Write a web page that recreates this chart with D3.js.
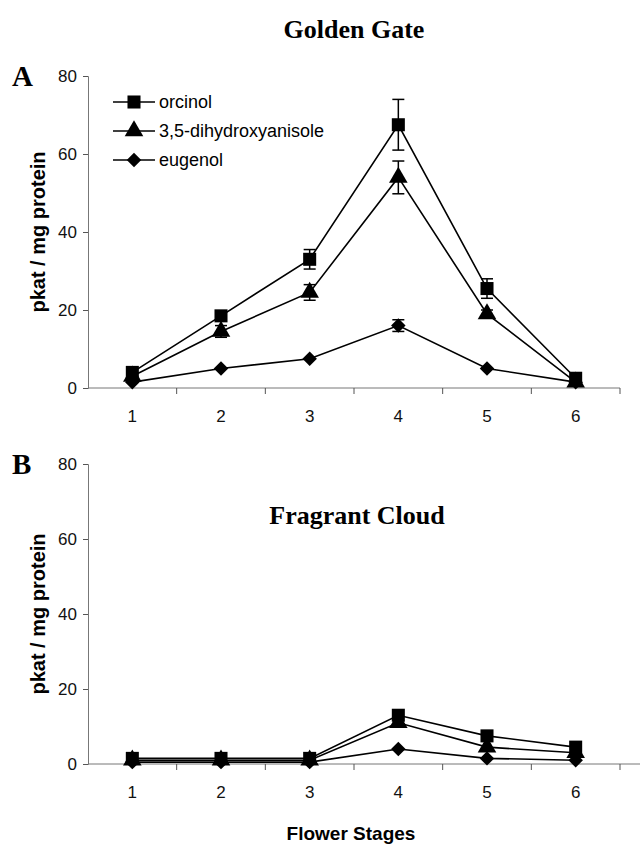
<!DOCTYPE html>
<html>
<head>
<meta charset="utf-8">
<script src="https://cdn.jsdelivr.net/npm/d3@7"></script>
<style>
  body { margin: 0; background: #fff; }
  svg { display: block; }
</style>
</head>
<body>
<svg id="chart" width="642" height="847"></svg>
<script>
// data
const stages = ["1", "2", "3", "4", "5", "6"];
const seriesNames = ["orcinol", "3,5-dihydroxyanisole", "eugenol"];
const yTicks = [0, 20, 40, 60, 80];

// Golden Gate (panel A)
const ggOrcinol = [4, 18.5, 33, 67.5, 25.5, 2.5];
const ggOrcinolErr = [0.5, 1, 2.5, 6.5, 2.5, 0.5];
const ggAnisole = [3, 14.5, 24.5, 54, 19, 1.5];
const ggAnisoleErr = [0.5, 1.5, 2, 4.2, 1, 0.3];
const ggEugenol = [1.5, 5, 7.5, 16, 5, 1.5];
const ggEugenolErr = [0.3, 0.5, 0.5, 1.5, 0.5, 0.3];

// Fragrant Cloud (panel B)
const fcOrcinol = [1.5, 1.5, 1.5, 13, 7.5, 4.5];
const fcAnisole = [1, 1, 1, 11, 4.5, 3];
const fcEugenol = [0.5, 0.5, 0.5, 4, 1.5, 1];

const svg = d3.select("#chart");
const SANS = "Liberation Sans, Arial, sans-serif";
const SERIF = "Liberation Serif, Times New Roman, serif";

// square, triangle, diamond (square turned 45deg)
const symbols = [d3.symbolSquare, d3.symbolTriangle, d3.symbolSquare];
const symSizes = [170, 150, 105];
const symRot = [0, 0, 45];

function marker(sel, i) {
  return sel.attr("d", d3.symbol().type(symbols[i]).size(symSizes[i])).attr("fill", "#000");
}

function drawPanel(cfg) {
  const x = d3.scaleBand().domain(stages).range([88, 620]);
  const y = d3.scaleLinear().domain([0, 80]).range([cfg.bottom, cfg.top]);
  const g = svg.append("g");

  // y axis
  const ya = g.append("g")
    .attr("transform", "translate(88,0)")
    .call(d3.axisLeft(y).tickValues(yTicks).tickSize(5).tickPadding(6));
  ya.select(".domain").attr("stroke", "#777");
  ya.selectAll(".tick line").attr("stroke", "#555");
  ya.selectAll("text").attr("font-family", SANS).attr("font-size", 17).attr("fill", "#111");

  // x axis
  const xa = g.append("g")
    .attr("transform", `translate(0,${cfg.bottom})`)
    .call(d3.axisBottom(x).tickSize(0).tickPadding(22));
  xa.select(".domain").attr("stroke", "#777").attr("d", `M88,0H${cfg.axisEnd}`);
  xa.selectAll("text").attr("font-family", SANS).attr("font-size", 17).attr("fill", "#111");
  // boundary ticks between stages
  const bounds = stages.map(s => x(s)).concat([x.range()[1]]);
  g.selectAll(".btick").data(bounds.slice(1)).join("line")
    .attr("x1", d => d).attr("x2", d => d)
    .attr("y1", cfg.bottom).attr("y2", cfg.bottom + 6)
    .attr("stroke", "#555");

  const cx = s => x(s) + x.bandwidth() / 2;

  cfg.series.forEach((vals, i) => {
    const pts = stages.map((s, j) => ({ s, v: vals[j], e: cfg.errs ? cfg.errs[i][j] : 0 }));
    g.append("path").datum(pts)
      .attr("fill", "none").attr("stroke", "#000").attr("stroke-width", 1.6)
      .attr("d", d3.line().x(d => cx(d.s)).y(d => y(d.v)));

    if (cfg.errs) {
      const eg = g.append("g").attr("stroke", "#000").attr("stroke-width", 1.5);
      pts.filter(d => d.e >= 1).forEach(d => {
        eg.append("line").attr("x1", cx(d.s)).attr("x2", cx(d.s))
          .attr("y1", y(d.v - d.e)).attr("y2", y(d.v + d.e));
        [d.v - d.e, d.v + d.e].forEach(ev => {
          eg.append("line").attr("x1", cx(d.s) - 6).attr("x2", cx(d.s) + 6)
            .attr("y1", y(ev)).attr("y2", y(ev));
        });
      });
    }

    marker(g.selectAll(null).data(pts).join("path"), i)
      .attr("transform", d => `translate(${cx(d.s)},${y(d.v)}) rotate(${symRot[i]})`);
  });

  // panel letter
  svg.append("text").attr("x", 12).attr("y", cfg.top + 10)
    .attr("font-family", SERIF).attr("font-weight", "bold").attr("font-size", 29)
    .text(cfg.letter);

  // y label
  svg.append("text")
    .attr("transform", `translate(45,${(cfg.top + cfg.bottom) / 2}) rotate(-90)`)
    .attr("text-anchor", "middle")
    .attr("font-family", SANS).attr("font-weight", "bold").attr("font-size", 20)
    .text("pkat / mg protein");

  // title
  svg.append("text").attr("x", cfg.titleX).attr("y", cfg.titleY)
    .attr("text-anchor", "middle")
    .attr("font-family", SERIF).attr("font-weight", "bold").attr("font-size", 26)
    .text(cfg.title);
}

drawPanel({
  top: 76, bottom: 388, axisEnd: 620, letter: "A",
  title: "Golden Gate", titleX: 354, titleY: 38,
  series: [ggOrcinol, ggAnisole, ggEugenol],
  errs: [ggOrcinolErr, ggAnisoleErr, ggEugenolErr]
});

drawPanel({
  top: 464, bottom: 764, axisEnd: 640, letter: "B",
  title: "Fragrant Cloud", titleX: 357, titleY: 524,
  series: [fcOrcinol, fcAnisole, fcEugenol],
  errs: null
});

// legend
const lg = svg.append("g");
seriesNames.forEach((name, i) => {
  const ly = 102 + i * 29;
  lg.append("line").attr("x1", 113).attr("x2", 155).attr("y1", ly).attr("y2", ly)
    .attr("stroke", "#000").attr("stroke-width", 1.5);
  marker(lg.append("path"), i).attr("transform", `translate(134,${ly}) rotate(${symRot[i]})`);
  lg.append("text").attr("x", 159).attr("y", ly + 6)
    .attr("font-family", SANS).attr("font-size", 18).text(name);
});

// x axis title
svg.append("text").attr("x", 351).attr("y", 840).attr("text-anchor", "middle")
  .attr("font-family", SANS).attr("font-weight", "bold").attr("font-size", 19)
  .text("Flower Stages");
</script>
</body>
</html>
